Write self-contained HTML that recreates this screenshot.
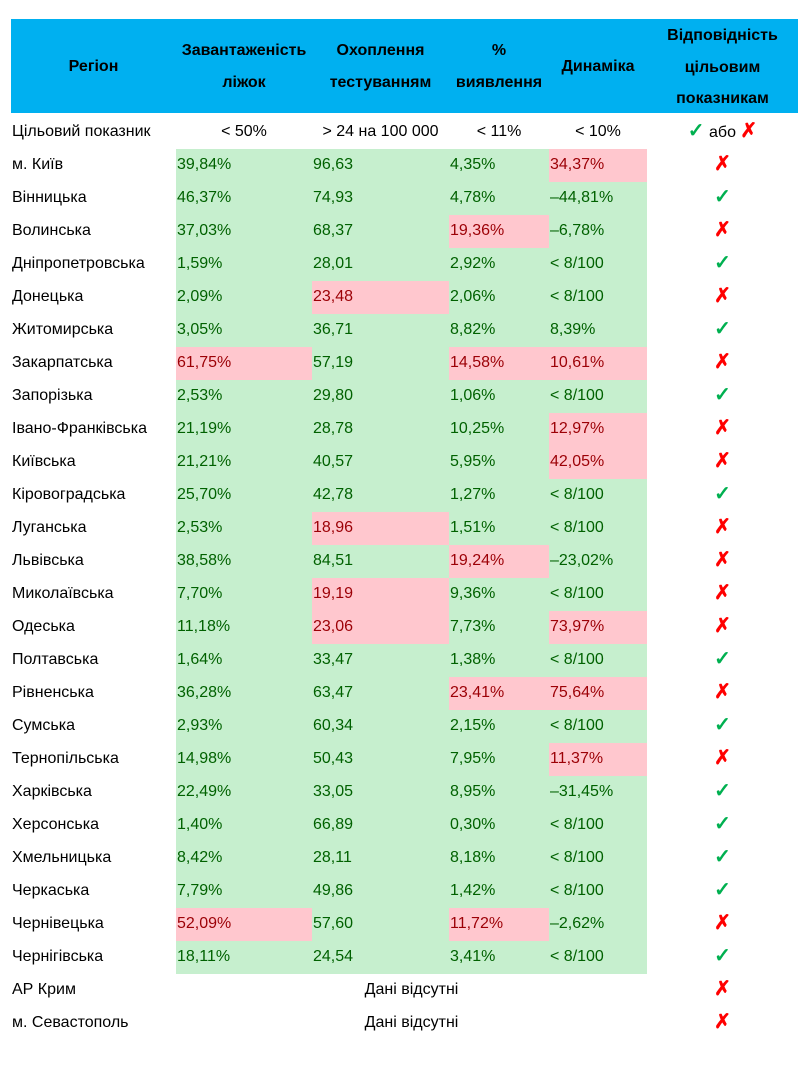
<!DOCTYPE html><html><head><meta charset="utf-8"><style>
body{margin:0;width:800px;height:1085px;background:#fff;font-family:"Liberation Sans",sans-serif;position:relative;overflow:hidden}
.hd{position:absolute;left:11px;top:19px;width:787px;height:94px;background:#00b0f0}
.h{position:absolute;font-weight:bold;font-size:16px;color:#000;text-align:center;line-height:31.5px}
.c{position:absolute;height:33px;line-height:33px;font-size:16px;white-space:nowrap}
.g{background:#c6efce;color:#006100}
.p{background:#ffc7ce;color:#9c0006}
.t{color:#000}
.ok{color:#00b050;font-size:20px;font-weight:bold}.no{color:#ff0000;font-size:20px;font-weight:bold}
</style></head><body>
<div class="hd"></div>
<div class="h" style="left:11px;width:165px;top:51px">Регіон</div>
<div class="h" style="left:176px;width:136px;top:35px">Завантаженість<br>ліжок</div>
<div class="h" style="left:312px;width:137px;top:35px">Охоплення<br>тестуванням</div>
<div class="h" style="left:449px;width:100px;top:35px">%<br>виявлення</div>
<div class="h" style="left:549px;width:98px;top:51px">Динаміка</div>
<div class="h" style="left:647px;width:151px;top:20px">Відповідність<br>цільовим<br>показникам</div>
<div id="rows"></div>
<script>
const X=[12,176,312,449,549,647],W=[164,136,137,100,98,151];
let h='';
function cell(x,w,y,txt,cls,al){h+=`<div class="c ${cls}" style="left:${x}px;width:${w}px;top:${y}px;text-align:${al||'left'}">${txt}</div>`}
let y=115;
cell(12,170,y,'Цільовий показник','t');
cell(176,136,y,'&lt; 50%','t','center');cell(312,137,y,'&gt; 24 на 100 000','t','center');
cell(449,100,y,'&lt; 11%','t','center');cell(549,98,y,'&lt; 10%','t','center');
cell(647,151,y,'<span class="ok">✓</span> або <span class="no">✗</span>','t','center');
const D=[
["м. Київ","39,84%","96,63","4,35%","34,37%","0001"],
["Вінницька","46,37%","74,93","4,78%","–44,81%","0000"],
["Волинська","37,03%","68,37","19,36%","–6,78%","0010"],
["Дніпропетровська","1,59%","28,01","2,92%","&lt; 8/100","0000"],
["Донецька","2,09%","23,48","2,06%","&lt; 8/100","0100"],
["Житомирська","3,05%","36,71","8,82%","8,39%","0000"],
["Закарпатська","61,75%","57,19","14,58%","10,61%","1011"],
["Запорізька","2,53%","29,80","1,06%","&lt; 8/100","0000"],
["Івано-Франківська","21,19%","28,78","10,25%","12,97%","0001"],
["Київська","21,21%","40,57","5,95%","42,05%","0001"],
["Кіровоградська","25,70%","42,78","1,27%","&lt; 8/100","0000"],
["Луганська","2,53%","18,96","1,51%","&lt; 8/100","0100"],
["Львівська","38,58%","84,51","19,24%","–23,02%","0010"],
["Миколаївська","7,70%","19,19","9,36%","&lt; 8/100","0100"],
["Одеська","11,18%","23,06","7,73%","73,97%","0101"],
["Полтавська","1,64%","33,47","1,38%","&lt; 8/100","0000"],
["Рівненська","36,28%","63,47","23,41%","75,64%","0011"],
["Сумська","2,93%","60,34","2,15%","&lt; 8/100","0000"],
["Тернопільська","14,98%","50,43","7,95%","11,37%","0001"],
["Харківська","22,49%","33,05","8,95%","–31,45%","0000"],
["Херсонська","1,40%","66,89","0,30%","&lt; 8/100","0000"],
["Хмельницька","8,42%","28,11","8,18%","&lt; 8/100","0000"],
["Черкаська","7,79%","49,86","1,42%","&lt; 8/100","0000"],
["Чернівецька","52,09%","57,60","11,72%","–2,62%","1010"],
["Чернігівська","18,11%","24,54","3,41%","&lt; 8/100","0000"]];
y=149;
for(const r of D){
 cell(12,164,y-1,r[0],'t');
 for(let i=1;i<5;i++){const p=r[5][i-1]=='1';h+=`<div class="c ${p?'p':'g'}" style="left:${X[i]}px;width:${W[i]}px;top:${y}px;height:33px;line-height:31px;padding-left:1px;box-sizing:border-box">${r[i]}</div>`}
 const bad=r[5].includes('1');
 cell(647,151,y-1,bad?'<span class="no">✗</span>':'<span class="ok">✓</span>','t','center');
 y+=33;
}
cell(12,164,y-1,'АР Крим','t');cell(176,471,y-1,'Дані відсутні','t','center');cell(647,151,y-1,'<span class="no">✗</span>','t','center');y+=33;
cell(12,164,y-1,'м. Севастополь','t');cell(176,471,y-1,'Дані відсутні','t','center');cell(647,151,y-1,'<span class="no">✗</span>','t','center');
document.getElementById('rows').innerHTML=h;
</script>
</body></html>
